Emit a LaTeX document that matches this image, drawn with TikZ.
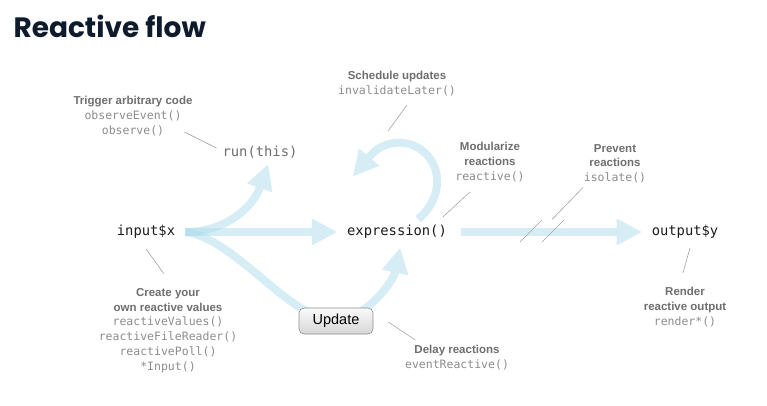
\documentclass[tikz,border=0pt]{standalone}
\usepackage{fontspec}
\setmainfont{Liberation Sans}
\setmonofont{DejaVu Sans Mono}
\newfontfamily\titlefont{Poppins}
\usetikzlibrary{arrows.meta,positioning,backgrounds}
\definecolor{Ink}{HTML}{1C1C1C}
\definecolor{Navy}{HTML}{0E1B2C}
\definecolor{Muted}{HTML}{6E6E6E}
\definecolor{CodeGray}{HTML}{8C8C8C}
\definecolor{LeadGray}{HTML}{A3A3A3}
\definecolor{Flow}{HTML}{ADDBEB}
\definecolor{BtnEdge}{HTML}{8E8E8E}
\newcommand\codeline[1]{{\color{CodeGray}\ttfamily #1}}

\begin{document}
\begin{tikzpicture}[
  x=1pt,y=1pt,
  code/.style={font=\fontsize{13.8}{16}\selectfont\ttfamily,text=Ink,inner xsep=10pt,inner ysep=6pt},
  note/.style={align=center,font=\fontsize{11.5}{14.8}\selectfont,text=Muted,inner sep=0pt,anchor=north},
  flow/.style={line width=8pt,draw=Flow,opacity=.5,-{Triangle[length=25pt,width=27pt,line width=0pt]}},
  lead/.style={draw=LeadGray,line width=.6pt},
  button/.style={draw=BtnEdge,line width=.6pt,rounded corners=5pt,top color=gray!4,bottom color=gray!32,minimum width=74pt,minimum height=26pt,font=\fontsize{14.5}{16}\selectfont}
]
\useasboundingbox (0,0) rectangle (767,-405);
\node[anchor=west,font={\titlefont\bfseries\fontsize{28}{32}\selectfont},text=Navy] (title) at (10,-26) {Reactive flow};

% main chain
\node[code] (input) at (146,-232) {input\$x};
\node[code,text=Muted] (run) at (260,-152) {run(this)};
\node[code] (expr) at (397,-232) {expression()};
\node[code] (output) at (685,-232) {output\$y};
\node[button] (update) at (336,-321) {Update};

% notes
\node[note] (trig) at (133,-96) {\textbf{Trigger arbitrary code}\\\codeline{observeEvent()}\\\codeline{observe()}};
\node[note] (sched) at (397,-71) {\textbf{Schedule updates}\\\codeline{invalidateLater()}};
\node[note] (modul) at (490,-142) {\textbf{Modularize}\\\textbf{reactions}\\\codeline{reactive()}};
\node[note] (prevent) at (615,-144) {\textbf{Prevent}\\\textbf{reactions}\\\codeline{isolate()}};
\node[note] (create) at (168,-288) {\textbf{Create your}\\\textbf{own reactive values}\\\codeline{reactiveValues()}\\\codeline{reactiveFileReader()}\\\codeline{reactivePoll()}\\\codeline{*Input()}};
\node[note] (render) at (685,-287) {\textbf{Render}\\\textbf{reactive output}\\\codeline{render*()}};
\node[note] (delay) at (457,-345) {\textbf{Delay reactions}\\\codeline{eventReactive()}};

\begin{scope}[on background layer]
\draw[flow] (input.east) -- (expr.west);
\draw[flow] (input.east) .. controls +(43,0) and +(-14,-40) .. ([xshift=8pt]run.south);
\draw[flow] (input.east) .. controls +(50,-6) and +(-45,0) .. (update.center) .. controls +(35,5) and +(-6,-30) .. ([xshift=3pt,yshift=-3pt]expr.south);
\draw[flow,shorten <=4pt] (expr.east) -- (output.west);
\draw[flow] ([xshift=21pt]expr.north) .. controls +(20,16) and +(16,-19) .. ++(10,63) .. controls +(-15,18) and +(15,18) .. ++(-58,0) -- ++(-17,-20);
\end{scope}

% pointers
\draw[lead] ([shift={(4,4)}]run.west) -- ++(-32,16);
\draw[lead] ([shift={(10,-9)}]sched.south) -- ++(-19,-26);
\draw[lead] ([shift={(-20,-10)}]modul.south) -- ++(-27,-25);
\draw[lead] ([shift={(-32,-4)}]prevent.south) -- ++(-31,-32);
\draw[lead] ([yshift=-4pt]input.south) -- ++(18,-25);
\draw[lead] ([shift={(5,-3)}]output.south) -- ++(-7,-25);
\draw[lead] ([shift={(15,-1)}]update.east) -- ++(27,-18);
\coordinate (brk) at (542,-231);
\foreach \dx in {-11,11}
  \draw[lead] ([xshift=\dx pt]brk) ++(-11,-11) -- ++(22,22);
\end{tikzpicture}
\end{document}
